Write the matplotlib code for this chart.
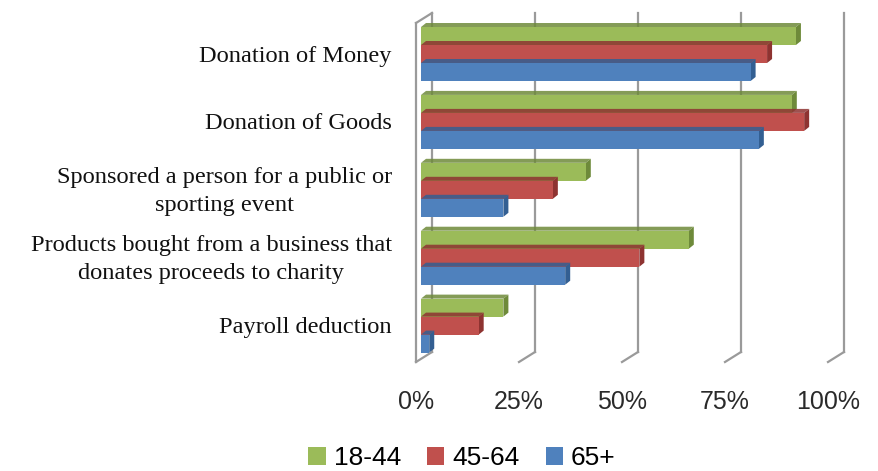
import numpy as np
import matplotlib
matplotlib.use("Agg")
import matplotlib.pyplot as plt
from matplotlib.patches import Polygon, Patch

# datos
categorias = ["Donation of Money", "Donation of Goods",
              "Sponsored a person for a public or\nsporting event",
              "Products bought from a business that\ndonates proceeds to charity",
              "Payroll deduction"]
series = ["18-44", "45-64", "65+"]
v_18_44 = [91, 90, 40, 65, 20]
v_45_64 = [84, 93, 32, 53, 14]
v_65 = [80, 82, 20, 35, 2]
ticks = [0, 25, 50, 75, 100]
tick_labels = ["0%", "25%", "50%", "75%", "100%"]

colores = ["#9BBB59", "#C0504D", "#4F81BD"]
oscuros = ["#6E8A3A", "#8E3331", "#335F92"]

W, H = 879, 471
fig = plt.figure(figsize=(W / 100, H / 100), dpi=100)

# escala en pixeles
px_x = 4.12      # px por 1%
px_y = 67.9      # px por categoria
x0_px, y0_px = 421, 54
left_px, right_px, top_px, bot_px = 405, 855, 5, 372
ax = fig.add_axes([left_px / W, 1 - bot_px / H, (right_px - left_px) / W, (bot_px - top_px) / H])
ax.set_xlim((left_px - x0_px) / px_x, (right_px - x0_px) / px_x)
ax.set_ylim((bot_px - y0_px) / px_y, (top_px - y0_px) / px_y)
ax.axis("off")

def dx(p):
    return p / px_x

def dy(p):
    return p / px_y

gris = "#9a9a9a"
atras_x, atras_y = dx(11), dy(-10)
frente_x, frente_y = dx(-5), dy(0)
y_suelo = dy(362 - y0_px)
y_techo = dy(23 - y0_px)

# pared y lineas de division
for t in ticks:
    ax.plot([t + atras_x, t + atras_x], [y_suelo + atras_y, y_techo + atras_y],
            color=gris, lw=1.6, zorder=1, clip_on=False)
    ax.plot([t + frente_x, t + atras_x], [y_suelo, y_suelo + atras_y],
            color=gris, lw=1.6, zorder=1, clip_on=False)
ax.plot([frente_x, frente_x], [y_suelo, y_techo], color=gris, lw=1.6, zorder=1, clip_on=False)
ax.plot([frente_x, atras_x], [y_techo, y_techo + atras_y], color=gris, lw=1.6, zorder=1, clip_on=False)

# barras con efecto 3D
alto = 0.265
prof_x, prof_y = dx(5), dy(-4)
y = np.arange(len(categorias))
for i, vals in enumerate([v_18_44, v_45_64, v_65]):
    yc = y + (i - 1) * alto
    ax.barh(yc, vals, height=alto, color=colores[i], zorder=3 + i)
    for yy, v in zip(yc, vals):
        ytop = yy - alto / 2
        ybot = yy + alto / 2
        arriba = Polygon([(0, ytop), (v, ytop), (v + prof_x, ytop + prof_y), (prof_x, ytop + prof_y)],
                         closed=True, facecolor=oscuros[i], edgecolor="none", alpha=0.85, zorder=2 + i)
        lado = Polygon([(v, ytop), (v + prof_x, ytop + prof_y), (v + prof_x, ybot + prof_y), (v, ybot)],
                       closed=True, facecolor=oscuros[i], edgecolor="none", zorder=2 + i)
        ax.add_patch(arriba)
        ax.add_patch(lado)

# etiquetas de categorias
for yy, c in zip(y, categorias):
    ax.text(dx(392 - x0_px), yy + 0.03, c, ha="right", va="center", multialignment="center",
            family="Liberation Serif", fontsize=17.6, color="#111111", linespacing=1.45,
            clip_on=False)

# etiquetas del eje x
for t, lab in zip(ticks, tick_labels):
    ax.text(t + frente_x, dy(402 - y0_px), lab, ha="center", va="center",
            family="Liberation Sans", fontsize=18, color="#2a2a2a", clip_on=False)

manijas = [Patch(facecolor=colores[i], label=series[i]) for i in range(3)]
fig.legend(handles=manijas, loc="center", bbox_to_anchor=(462 / W, 1 - 458 / H), ncol=3,
           frameon=False, prop={"family": "Liberation Sans", "size": 19},
           handlelength=0.65, handleheight=0.65, handletextpad=0.3, columnspacing=1.0)

fig.savefig("out.png", dpi=100)
